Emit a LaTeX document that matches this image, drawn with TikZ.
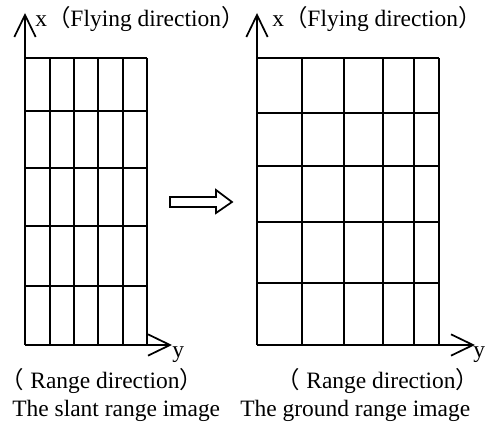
\documentclass[tikz,border=0pt]{standalone}
\usepackage{fontspec}
\setmainfont{Liberation Serif}
\newfontfamily\cjkfont{Noto Sans CJK SC}
\usetikzlibrary{arrows.meta}
\tikzset{
  gridln/.style={line width=1.3pt,draw=black},
  axisln/.style={line width=1.3pt,draw=black,
    -{Straight Barb[length=16.5pt,width=16pt]}},
  hollowarr/.style={line width=1.3pt,draw=black,fill=white,line join=miter},
  lbl/.style={anchor=base west,inner sep=0pt,
    font=\fontsize{17.6}{20}\selectfont},
}

\begin{document}
\begin{tikzpicture}[x=0.75pt,y=-0.75pt]
  \useasboundingbox (0,0) rectangle (499,423);
  \coordinate (o1) at (25,345);
  \coordinate (xtip1) at (25,13);
  \coordinate (ytip1) at (172,345);
  \coordinate (o2) at (257,345);
  \coordinate (xtip2) at (257,13);
  \coordinate (ytip2) at (475,345);
  \draw[gridln] (25,58) -- (147,58);
  \draw[gridln] (25,111) -- (147,111);
  \draw[gridln] (25,168) -- (147,168);
  \draw[gridln] (25,226) -- (147,226);
  \draw[gridln] (25,286) -- (147,286);
  \draw[gridln] (50,58) -- (50,345);
  \draw[gridln] (74,58) -- (74,345);
  \draw[gridln] (98,58) -- (98,345);
  \draw[gridln] (123,58) -- (123,345);
  \draw[gridln] (147,58) -- (147,345);
  \draw[gridln] (257,58) -- (439,58);
  \draw[gridln] (257,113) -- (439,113);
  \draw[gridln] (257,166) -- (439,166);
  \draw[gridln] (257,222) -- (439,222);
  \draw[gridln] (257,283) -- (439,283);
  \draw[gridln] (302,58) -- (302,345);
  \draw[gridln] (344,58) -- (344,345);
  \draw[gridln] (383,58) -- (383,345);
  \draw[gridln] (414,58) -- (414,345);
  \draw[gridln] (439,58) -- (439,345);
  \draw[axisln] (o1) -- (xtip1);
  \draw[axisln] (o1) -- (ytip1);
  \draw[axisln] (o2) -- (xtip2);
  \draw[axisln] (o2) -- (ytip2);
  \draw[hollowarr] (170,197) -- (216,197) -- (216,190) -- (232,202)
    -- (216,213) -- (216,207) -- (170,207) -- cycle;
  \node[lbl] (xlab1) at (35,27) {x{\cjkfont （}Flying direction{\cjkfont ）}};
  \node[lbl] (xlab2) at (272,27) {x{\cjkfont （}Flying direction{\cjkfont ）}};
  \node[lbl] (ylab1) at (172,358) {y};
  \node[lbl] (ylab2) at (473,358) {y};
  \node[lbl] (rng1) at (0,388) {{\cjkfont （}\hspace{5pt}Range direction{\cjkfont ）}};
  \node[lbl] (rng2) at (276,388) {{\cjkfont （}\hspace{5pt}Range direction{\cjkfont ）}};
  \node[lbl] (cap1) at (12,416) {The slant range image};
  \node[lbl] (cap2) at (240,416) {The ground range image};
\end{tikzpicture}
\end{document}
